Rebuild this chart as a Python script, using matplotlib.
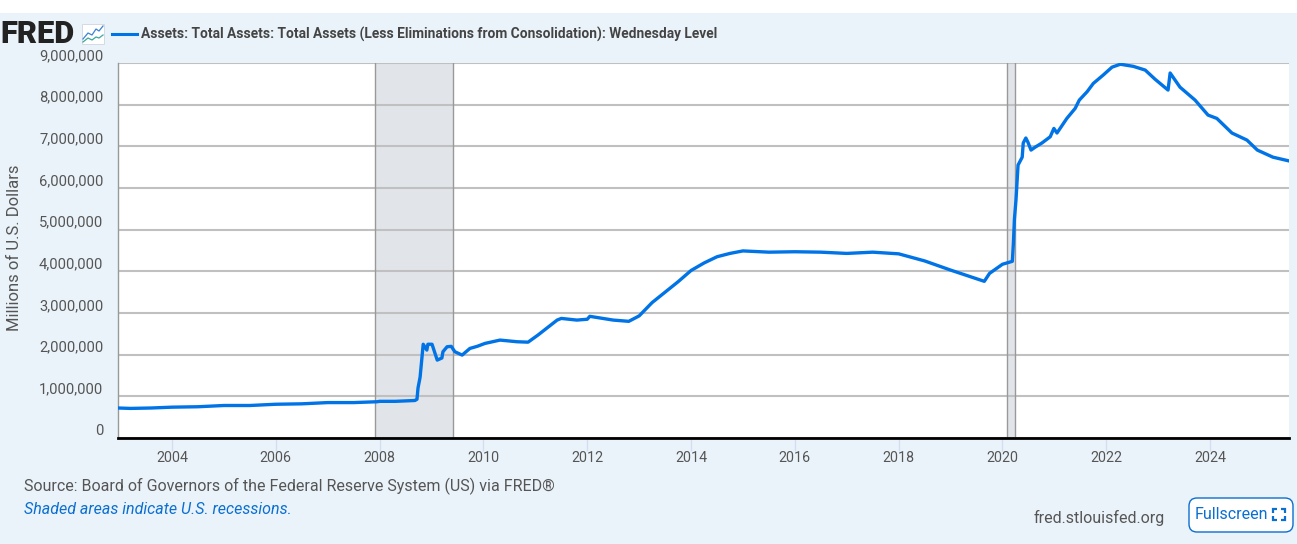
import matplotlib
matplotlib.use('Agg')
import matplotlib.pyplot as plt
from matplotlib.patches import FancyBboxPatch, Rectangle
from matplotlib.ticker import FuncFormatter

plt.rcParams['font.family'] = ['Roboto', 'DejaVu Sans']

# values: decimal year, millions of dollars
years = [2002.96, 2003.2, 2003.6, 2004.0, 2004.5, 2005.0, 2005.5, 2006.0, 2006.5, 2007.0,
         2007.5, 2007.95, 2008.0, 2008.3, 2008.68, 2008.72, 2008.74, 2008.78, 2008.84, 2008.91,
         2008.93, 2009.01, 2009.11, 2009.2, 2009.22, 2009.3, 2009.38, 2009.45, 2009.59, 2009.74,
         2009.88, 2010.03, 2010.32, 2010.65, 2010.86, 2011.05, 2011.42, 2011.5, 2011.8, 2012.0,
         2012.05, 2012.5, 2012.8, 2013.0, 2013.25, 2013.5, 2013.75, 2014.0, 2014.25, 2014.5,
         2014.75, 2015.0, 2015.5, 2016.0, 2016.5, 2017.0, 2017.5, 2018.0, 2018.5, 2019.0,
         2019.65, 2019.75, 2020.0, 2020.19, 2020.21, 2020.23, 2020.26, 2020.30, 2020.38, 2020.40,
         2020.45, 2020.49, 2020.55, 2020.63, 2020.76, 2020.92, 2020.99, 2021.05, 2021.11, 2021.24,
         2021.40, 2021.48, 2021.63, 2021.75, 2021.94, 2022.11, 2022.27, 2022.52, 2022.75, 2022.94,
         2023.19, 2023.23, 2023.42, 2023.71, 2023.96, 2024.13, 2024.42, 2024.71, 2024.91, 2025.21,
         2025.52]
assets = [0.72, 0.71, 0.72, 0.74, 0.75, 0.78, 0.78, 0.81, 0.82, 0.85,
          0.85, 0.87, 0.88, 0.88, 0.90, 0.93, 1.20, 1.46, 2.25, 2.11,
          2.25, 2.25, 1.87, 1.92, 2.07, 2.19, 2.20, 2.07, 1.99, 2.15,
          2.20, 2.27, 2.35, 2.31, 2.30, 2.47, 2.83, 2.87, 2.83, 2.85,
          2.92, 2.83, 2.80, 2.93, 3.25, 3.50, 3.75, 4.02, 4.20, 4.35,
          4.43, 4.49, 4.46, 4.47, 4.46, 4.43, 4.46, 4.42, 4.25, 4.03,
          3.76, 3.95, 4.17, 4.24, 4.67, 5.25, 5.71, 6.55, 6.74, 7.08,
          7.20, 7.10, 6.91, 6.98, 7.08, 7.23, 7.43, 7.32, 7.43, 7.67,
          7.91, 8.11, 8.31, 8.51, 8.71, 8.90, 8.97, 8.92, 8.83, 8.61,
          8.35, 8.76, 8.42, 8.11, 7.75, 7.67, 7.32, 7.15, 6.91, 6.74,
          6.65]
recessions = [(2007.91, 2009.41), (2020.08, 2020.25)]
x_ticks = [2004, 2006, 2008, 2010, 2012, 2014, 2016, 2018, 2020, 2022, 2024]
y_ticks = [0, 1, 2, 3, 4, 5, 6, 7, 8, 9]

BG = '#ebf3fa'
BLUE = '#0073e6'
TEXT = '#555555'

fig = plt.figure(figsize=(12.97, 5.44), dpi=100, facecolor=BG)
W, H = 1297, 544

ax = fig.add_axes([118 / W, (H - 438) / H, (1289 - 118) / W, 375 / H])
for start, end in recessions:
    ax.axvspan(start, end, facecolor='#e1e5e9', edgecolor='none', zorder=0)
    ax.axvline(start, color='#999999', lw=1, zorder=1.5)
    ax.axvline(end, color='#999999', lw=1, zorder=1.5)
ax.plot(years, assets, color=BLUE, lw=2.4, solid_joinstyle='round', zorder=3)

ax.set_xlim(2002.96, 2025.52)
ax.set_ylim(0, 9)
ax.set_xticks(x_ticks)
ax.set_yticks(y_ticks)
ax.yaxis.set_major_formatter(FuncFormatter(lambda v, p: f'{int(v * 1000000):,}'))
ax.grid(axis='y', color='#c0c0c0', lw=1.5, zorder=1)
ax.set_axisbelow(True)
ax.tick_params(axis='x', length=9, width=1, color='#d3dff0', labelsize=10.3, labelcolor=TEXT, pad=0)
ax.tick_params(axis='y', length=0, labelsize=10.6, labelcolor=TEXT, pad=10.5)
for label in ax.get_yticklabels():
    label.set_verticalalignment('bottom')
for name in ['top', 'right']:
    ax.spines[name].set_visible(False)
ax.spines['left'].set_color('#999999')
ax.spines['left'].set_linewidth(1)
ax.spines['bottom'].set_color('black')
ax.spines['bottom'].set_linewidth(2)

# page furniture, drawn in pixel coordinates
page = fig.add_axes([0, 0, 1, 1], facecolor='none')
page.add_patch(Rectangle((0, 0), W, 13, facecolor='white', edgecolor='none'))

page.text(0.5, 34, 'FRED', fontsize=22.3, fontweight='black', color='#222222', va='center')
page.add_patch(Rectangle((82, 24), 22, 20, facecolor='white', edgecolor='#d5dbe2', lw=0.7))
page.plot([83, 88, 92, 96, 99, 103], [39, 33, 35, 29, 31, 26], color='#3b82d6', lw=0.9)
page.plot([83, 88, 92, 96, 99, 103], [42, 38, 40, 37, 38, 35], color='#3aa89a', lw=0.9)
page.plot([112, 137], [33.5, 33.5], color=BLUE, lw=2.2)
page.text(141, 34, 'Assets: Total Assets: Total Assets (Less Eliminations from Consolidation): Wednesday Level',
          fontsize=9.93, fontweight='bold', color='#444444', va='center')

page.text(15, 248, 'Millions of U.S. Dollars', fontsize=12, color=TEXT, rotation=90, ha='center', va='center')
page.text(24, 486.5, 'Source: Board of Governors of the Federal Reserve System (US) via FRED®',
          fontsize=11.5, color=TEXT, va='center')
page.text(24, 510, 'Shaded areas indicate U.S. recessions.', fontsize=11.5, fontstyle='italic',
          color='#0b6fd0', va='center')
page.text(1034, 518, 'fred.stlouisfed.org', fontsize=11.5, color=TEXT, va='center')

page.add_patch(FancyBboxPatch((1189, 498), 104, 34, boxstyle='round,pad=0,rounding_size=8',
                              facecolor='white', edgecolor='#0b6fd0', lw=1))
page.text(1195, 514.5, 'Fullscreen', fontsize=11.5, color='#0b6fd0', va='center')
for x0, y0, dx, dy in [(1273, 509, 1, 1), (1285, 509, -1, 1), (1273, 520, 1, -1), (1285, 520, -1, -1)]:
    page.plot([x0 + 4 * dx, x0, x0], [y0, y0, y0 + 4 * dy], color='#0b6fd0', lw=1.6,
              solid_capstyle='butt', solid_joinstyle='miter')
page.set_xlim(0, W)
page.set_ylim(H, 0)
page.axis('off')

fig.savefig('out.png', dpi=100, facecolor=BG)
